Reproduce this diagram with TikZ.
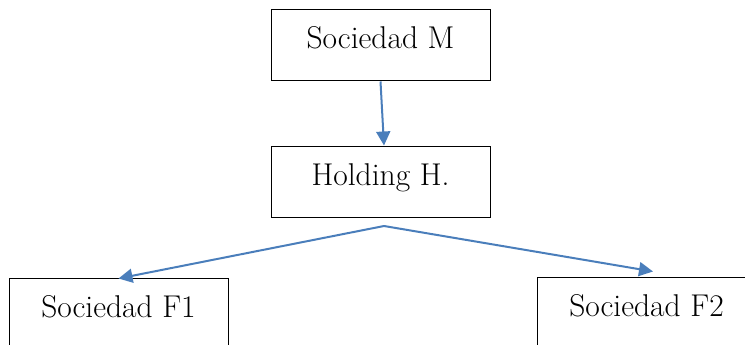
\documentclass[tikz,border=0pt]{standalone}
\usepackage{tikz}
\usetikzlibrary{arrows.meta,calc}
\definecolor{linkblue}{RGB}{74,126,187}
\tikzset{
  entidad/.style={draw, line width=1pt, inner sep=0pt, minimum width=219pt,
    text height=39pt, text depth=32pt, font=\fontsize{31.5}{36}\selectfont},
  enlace/.style={draw=linkblue, line width=2pt, -{Triangle[length=14pt,width=14pt]}}
}

\begin{document}
\begin{tikzpicture}[x=1pt,y=-1pt]
\clip (0,0) rectangle (745,345);
\node[entidad] (M) at (380.5,45.5) {Sociedad M};
\node[entidad] (H) at (380.5,181.5) {Holding H.};
\node[entidad] (F1) at (118.5,313.5) {Sociedad F1};
\node[entidad] (F2) at (646.5,312.5) {Sociedad F2};
\coordinate (split) at (384,226);
\draw[enlace] (M.south) -- ([xshift=3.5pt]H.north);
\draw[enlace] (split) -- ([yshift=-1pt]F1.north);
\draw[enlace] (split) -- ([xshift=6.5pt,yshift=5pt]F2.north);
\end{tikzpicture}
\end{document}
